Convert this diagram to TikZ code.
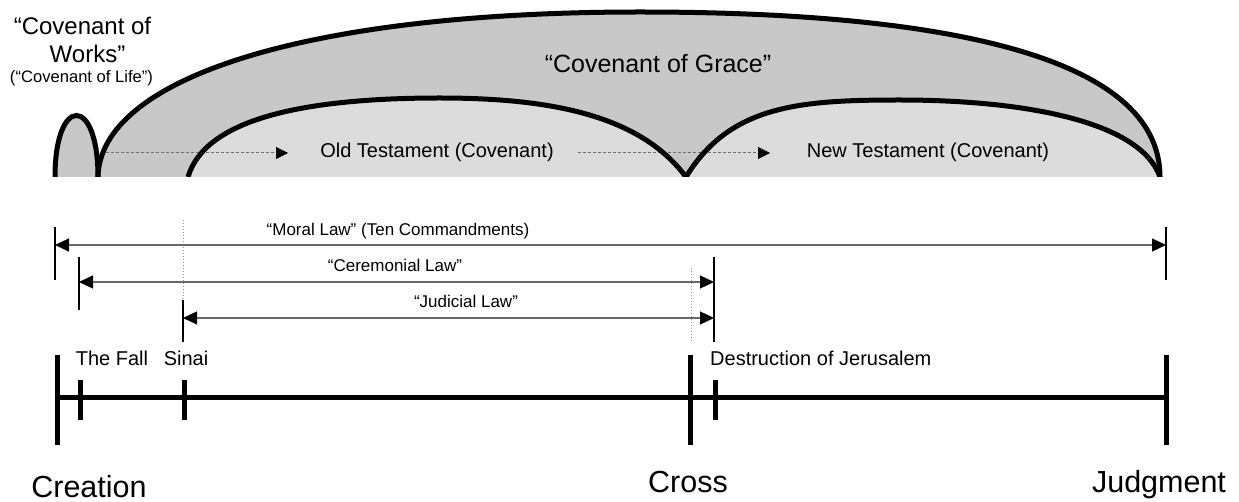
\documentclass[tikz,border=0pt]{standalone}
\usepackage{fontspec}
\setmainfont{Liberation Sans}
\usetikzlibrary{arrows.meta}
\definecolor{gracegray}{RGB}{200,200,200}
\definecolor{testgray}{RGB}{220,220,220}
\definecolor{lawgray}{RGB}{105,105,105}
\definecolor{dotgray}{RGB}{110,110,110}
\definecolor{guidegray}{RGB}{150,150,150}
\begin{document}
\begin{tikzpicture}[x=1pt,y=-1pt,
  arch/.style={line width=5pt, black},
  tickmark/.style={line width=5pt, black},
  barmark/.style={line width=2pt, black},
  lawline/.style={line width=1.2pt, lawgray, {Triangle[length=14pt,width=13pt,color=black]}-{Triangle[length=14pt,width=13pt,color=black]}},
  dashline/.style={line width=1pt, dotgray, dash pattern=on 3pt off 2pt, -{Triangle[length=12pt,width=12pt,color=black]}},
  guide/.style={line width=1pt, guidegray, dash pattern=on 1.5pt off 1.5pt},
  bigtxt/.style={font=\fontsize{30.5}{36}\selectfont, anchor=base, inner sep=0pt},
  midtxt/.style={font=\fontsize{20}{24}\selectfont, anchor=base, inner sep=0pt},
  lawtxt/.style={font=\fontsize{17}{20}\selectfont, anchor=base, inner sep=0pt},
  evttxt/.style={font=\fontsize{20}{24}\selectfont, anchor=base, inner sep=0pt},
]
\useasboundingbox (0,0) rectangle (1239,502);
\fill[white] (0,0) rectangle (1239,502);

% ---------- arches ----------
\begin{scope}
\clip (0,0) rectangle (1239,177);
\fill[gracegray] (98,177) .. controls (100,80) and (300,12) .. (640,12) .. controls (940,12) and (1160,55) .. (1160,177) -- cycle;
\fill[gracegray] (55,177) .. controls (55,95) and (98,95) .. (98,177) -- cycle;
\fill[testgray] (188,177) .. controls (205,120) and (300,98) .. (440,98) .. controls (550,98) and (640,115) .. (686,177) -- cycle;
\fill[testgray] (686,177) .. controls (730,105) and (800,100) .. (900,100) .. controls (1020,100) and (1140,120) .. (1160,177) -- cycle;
% dashed arrows
\coordinate (d1s) at (106,153);
\coordinate (d1e) at (288,153);
\coordinate (d2s) at (578,153);
\coordinate (d2e) at (770,153);
\draw[dashline] (d1s) -- (d1e);
\draw[dashline] (d2s) -- (d2e);
% outlines
\draw[arch] (55,177) .. controls (55,95) and (98,95) .. (98,177);
\draw[arch] (98,177) .. controls (100,80) and (300,12) .. (640,12) .. controls (940,12) and (1160,55) .. (1160,177);
\draw[arch] (188,177) .. controls (205,120) and (300,98) .. (440,98) .. controls (550,98) and (640,115) .. (686,177);
\draw[arch] (686,177) .. controls (730,105) and (800,100) .. (900,100) .. controls (1020,100) and (1140,120) .. (1160,177);
\end{scope}

\node[font=\fontsize{24}{28}\selectfont, anchor=base, inner sep=0pt] (cw1) at (82.5,35) {“Covenant of};
\node[font=\fontsize{24}{28}\selectfont, anchor=base, inner sep=0pt] (cw2) at (87.5,63) {Works”};
\node[font=\fontsize{16.6}{20}\selectfont, anchor=base, inner sep=0pt] (cwl) at (81.5,83) {(“Covenant of Life”)};
\node[font=\fontsize{25}{30}\selectfont, anchor=base, inner sep=0pt] (grace) at (658,73) {“Covenant of Grace”};
\node[midtxt] (ot) at (437,158) {Old Testament (Covenant)};
\node[midtxt] (nt) at (928,158) {New Testament (Covenant)};

% ---------- law spans ----------
\draw[guide] (183,220) -- (183,300);
\draw[guide] (691,268) -- (691,342);

\coordinate (mL) at (55,245);
\coordinate (mR) at (1166,245);
\coordinate (cL) at (79,282);
\coordinate (cR) at (714,282);
\coordinate (jL) at (183,318);
\coordinate (jR) at (714,318);

\draw[barmark] (55,227) -- (55,280);
\draw[barmark] (1166,227) -- (1166,280);
\draw[barmark] (79,257) -- (79,310);
\draw[barmark] (714,257) -- (714,342);
\draw[barmark] (183,300) -- (183,342);

\draw[lawline] (mL) -- (mR);
\draw[lawline] (cL) -- (cR);
\draw[lawline] (jL) -- (jR);

\node[lawtxt] (moral) at (398,236) {“Moral Law” (Ten Commandments)};
\node[lawtxt] (cerem) at (395,272) {“Ceremonial Law”};
\node[lawtxt] (judic) at (466,308) {“Judicial Law”};

% ---------- timeline ----------
\coordinate (creation) at (57,397);
\coordinate (fall) at (80,397);
\coordinate (sinai) at (184,397);
\coordinate (cross) at (690,397);
\coordinate (destr) at (715,397);
\coordinate (judg) at (1166,397);

\draw[line width=5pt] (creation) -- (judg);
\draw[tickmark] (57,355) -- (57,445);
\draw[tickmark] (80,380) -- (80,420);
\draw[tickmark] (184,380) -- (184,420);
\draw[tickmark] (690,355) -- (690,445);
\draw[tickmark] (715,380) -- (715,420);
\draw[tickmark] (1166,355) -- (1166,445);

\node[evttxt] (tfall) at (112,366) {The Fall};
\node[evttxt] (tsinai) at (186,366) {Sinai};
\node[evttxt, anchor=base west] (tdestr) at (710,366) {Destruction of Jerusalem};

\node[bigtxt] (tcreation) at (89,497) {Creation};
\node[bigtxt] (tcross) at (688,492) {Cross};
\node[bigtxt] (tjudg) at (1159,492) {Judgment};
\end{tikzpicture}
\end{document}
